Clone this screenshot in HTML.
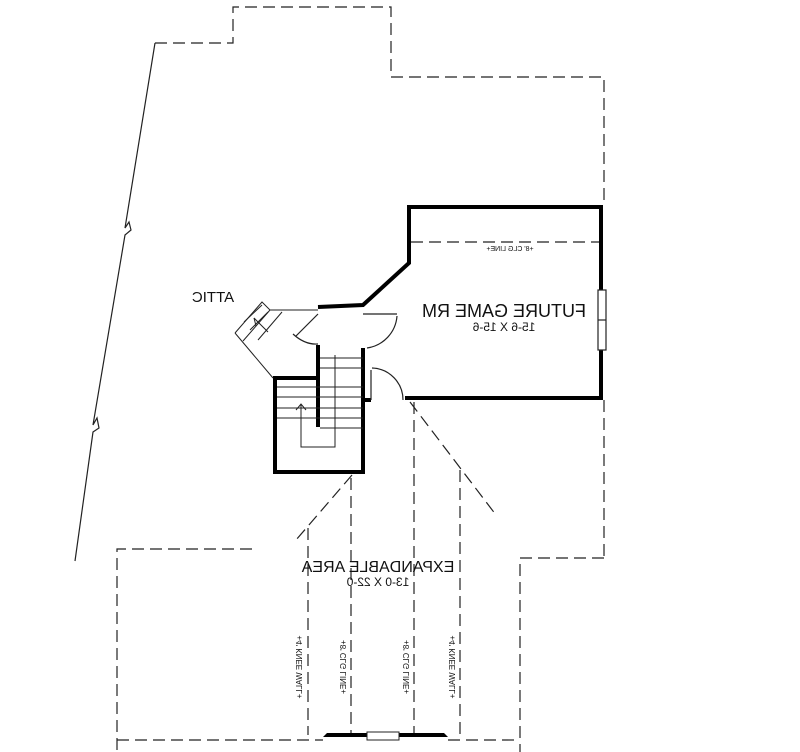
<!DOCTYPE html>
<html><head><style>html,body{margin:0;padding:0;background:#fff}svg{display:block}</style></head>
<body>
<svg width="800" height="752" viewBox="0 0 800 752" xmlns="http://www.w3.org/2000/svg" font-family="Liberation Sans, sans-serif">
<g fill="none" stroke="#222" stroke-width="1.2" stroke-dasharray="12,6">
<polyline points="155,43 233,43 233,7 391,7 391,77 604,77 604,205"/>
<line x1="604" y1="400" x2="604" y2="558"/>
<polyline points="604,558 520,558 520,752"/>
<polyline points="252,549 117,549 117,752"/>
<line x1="411" y1="242" x2="600" y2="242"/>
<line x1="308" y1="528" x2="308" y2="735"/>
<line x1="351" y1="478" x2="351" y2="735"/>
<line x1="414" y1="402" x2="414" y2="735"/>
<line x1="460" y1="470" x2="460" y2="735"/>
<line x1="352" y1="475" x2="296" y2="540"/>
<line x1="410" y1="402" x2="496" y2="515"/>
<line x1="117" y1="740" x2="323" y2="740"/>
<line x1="448" y1="740" x2="520" y2="740"/>
</g>
<polyline points="155,43 125,228 129,222 131,230 125,235 93,425 97,418 99,428 93,432 75,561" fill="none" stroke="#222" stroke-width="1.2"/>
<g fill="none" stroke="#000" stroke-width="4">
<polyline points="405,398 601,398 601,207 409,207 409,263 363,305 318,307"/>
<polyline points="318,345 318,427"/>
<polyline points="318,378 275,378 275,472 363,472 363,348"/>
<line x1="363" y1="400" x2="371" y2="400"/>
</g>
<g fill="none" stroke="#222" stroke-width="1.2">
<rect x="598" y="290" width="8" height="60" fill="#fff"/>
<line x1="598" y1="320" x2="606" y2="320"/>
<line x1="363" y1="314" x2="397" y2="314"/>
<path d="M397,316 A35,35 0 0 1 367,348"/>
<line x1="318" y1="314" x2="296" y2="336"/>
<path d="M293,334 Q305,345 318,344"/>
<line x1="371" y1="370" x2="371" y2="400"/>
<path d="M372,368 A32,32 0 0 1 403,400"/>
<g stroke-width="1">
<line x1="320" y1="358" x2="363" y2="358"/><line x1="320" y1="368" x2="363" y2="368"/>
<line x1="277" y1="387" x2="363" y2="387"/><line x1="277" y1="397" x2="363" y2="397"/>
<line x1="277" y1="408" x2="363" y2="408"/><line x1="277" y1="418" x2="363" y2="418"/>
<line x1="320" y1="428" x2="363" y2="428"/>
<polyline points="301,404 301,447 335,447 335,355"/>
<polyline points="296,410 301,404 306,410"/>
<line x1="273" y1="378" x2="235" y2="333"/>
<polyline points="235,333 262,302 270,310 243,341"/>
<line x1="244" y1="322" x2="262" y2="305"/>
<line x1="250" y1="330" x2="268" y2="312"/>
<line x1="258" y1="340" x2="282" y2="312"/>
<line x1="270" y1="310" x2="318" y2="310"/>
<line x1="254" y1="318" x2="268" y2="332"/>
<polyline points="254,318 256,326 M254,318 262,320"/>
</g>
</g>
<path d="M323,737 L327,733 L444,733 L448,737 Z" fill="#000"/>
<rect x="367" y="732" width="32" height="8" fill="#fff" stroke="#222"/>
<g fill="#111" text-anchor="middle">
<text transform="translate(213,302) scale(-1,1)" font-size="15">ATTIC</text>
<text transform="translate(504,317) scale(-1,1)" font-size="18">FUTURE GAME RM</text>
<text transform="translate(504,331) scale(-1,1)" font-size="12">15-6 X 15-6</text>
<text transform="translate(510,251) scale(-1,1)" font-size="7">+8' CLG LINE+</text>
<text transform="translate(378,572) scale(-1,1)" font-size="16">EXPANDABLE AREA</text>
<text transform="translate(378,586) scale(-1,1)" font-size="12">13-0 X 22-0</text>
<text transform="translate(302,667) rotate(-90) scale(-1,1)" font-size="8">+4' KNEE WALL+</text>
<text transform="translate(346,667) rotate(-90) scale(-1,1)" font-size="8">+8' CLG LINE+</text>
<text transform="translate(409,667) rotate(-90) scale(-1,1)" font-size="8">+8' CLG LINE+</text>
<text transform="translate(455,667) rotate(-90) scale(-1,1)" font-size="8">+4' KNEE WALL+</text>
</g>
</svg>
</body></html>
